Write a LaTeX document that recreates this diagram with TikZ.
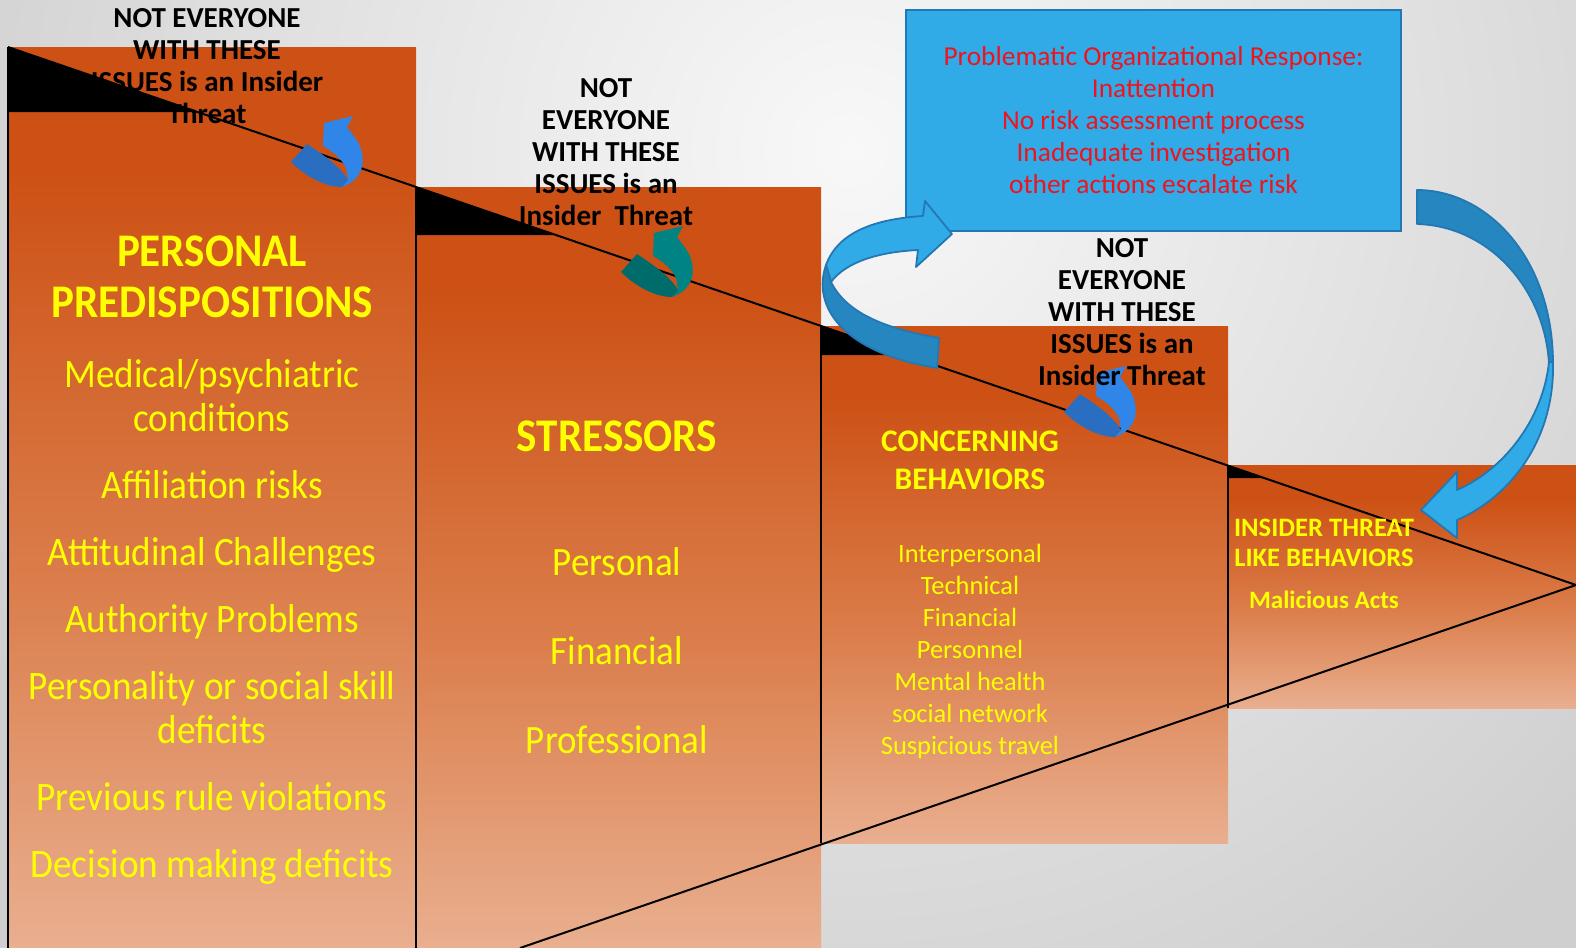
\documentclass[tikz,border=0pt]{standalone}
\usepackage{fontspec}
\setmainfont{Carlito}
\newfontfamily\tallfont{Carlito}[FakeStretch=0.92]
\usetikzlibrary{positioning}

\definecolor{paper}{HTML}{F8F8F8}
\definecolor{paperedge}{HTML}{CFCFCF}
\definecolor{rust}{HTML}{CD5115}
\definecolor{rustmid}{HTML}{DB7E4C}
\definecolor{rustpale}{HTML}{E9AF8F}
\definecolor{hilite}{HTML}{FFFF00}
\definecolor{alarm}{HTML}{EE141E}
\definecolor{sky}{HTML}{31ABE8}
\definecolor{skydark}{HTML}{2687C0}
\definecolor{skyedge}{HTML}{2378B3}
\definecolor{curlblue}{HTML}{2F86E8}
\definecolor{curlbluedk}{HTML}{2A6EC2}
\definecolor{curlteal}{HTML}{008383}
\definecolor{curltealdk}{HTML}{006B6B}

% dark at the top of each step, fading towards the bottom
\pgfdeclareverticalshading{stepfade}{100bp}{color(0bp)=(rustpale); color(25bp)=(rustpale); color(45bp)=(rustmid); color(68bp)=(rust); color(100bp)=(rust)}

\begin{document}
\begin{tikzpicture}[x=0.5pt, y=-0.5pt,
    stepnote/.style={font=\bfseries\fontsize{14.5}{16}\selectfont, align=center, inner sep=0pt},
    steptitle/.style={font=\tallfont\bfseries\fontsize{23.4}{25.5}\selectfont, text=hilite, align=center, inner sep=0pt},
    stepitem/.style={font=\tallfont\fontsize{20.2}{22}\selectfont, text=hilite, align=center, inner sep=0pt},
    smalltitle/.style={font=\bfseries\fontsize{15.7}{19}\selectfont, text=hilite, align=center, inner sep=0pt},
    smallitem/.style={font=\fontsize{13.2}{16}\selectfont, text=hilite, align=center, inner sep=0pt},
    stepblock/.style={shading=stepfade},
    wedge/.style={line width=1pt},
    band/.style={draw=skyedge, line width=0.9pt, line join=round},
    pics/curl/.style 2 args={code={
      \fill[#1] (72,87) .. controls (92,80) and (98,62) .. (88,42) -- (77,27) -- (83,16) -- (54,23) -- (53,46) .. controls (60,50) and (70,56) .. (76,68) -- (78,80) -- cycle;
      \fill[#2] (37,44) -- (21,62) .. controls (35,76) and (55,87) .. (72,87) -- (78,80) .. controls (70,66) and (52,54) .. cycle;
    }}
  ]
  \useasboundingbox (0,0) rectangle (1576,948);
  \begin{scope}
    \clip (0,0) rectangle (1576,948);
    \shade[inner color=paper, outer color=paperedge] (-150,-850) rectangle (1850,1150);
  \end{scope}

  % the four steps
  \shade[stepblock] (8,47) rectangle (416,948);
  \shade[stepblock] (416,187) rectangle (821,948);
  \shade[stepblock] (821,326) rectangle (1228,843);
  \shade[stepblock] (1228,465) rectangle (1576,708);

  \fill (8,47) -- (8,112) -- (197,112) -- cycle;
  \fill (416,187) -- (416,235) -- (556,235) -- cycle;
  \fill (821,326) -- (821,355) -- (906,355) -- cycle;
  \fill (1228,465.5) -- (1228,478) -- (1264,478) -- cycle;

  \coordinate (tip) at (1576,585);
  \draw[wedge] (8,47) -- (tip) -- (520,948);
  \draw[line width=0.8pt] (8,47) -- (8,948);
  \draw[line width=0.8pt] (416,187) -- (416,948);
  \draw[line width=0.8pt] (821,326) -- (821,843);
  \draw[line width=0.8pt] (1228,465) -- (1228,708);

  \pic at (270,100) {curl={curlblue}{curlbluedk}};
  \pic at (600,210) {curl={curlteal}{curltealdk}};
  \pic at (1043,350) {curl={curlblue}{curlbluedk}};

  % step 1
  \node[stepnote] (note1) at (207,66) {NOT EVERYONE\\WITH THESE\\ISSUES is an Insider\\Threat};
  \node[steptitle] (predisp) at (212,277) {PERSONAL\\PREDISPOSITIONS};
  \node[stepitem] (predisplist) at (212,622) {Medical/psychiatric\\conditions\\[11.5pt]Affiliation risks\\[11.5pt]Attitudinal Challenges\\[11.5pt]Authority Problems\\[11.5pt]Personality or social skill\\deficits\\[11.5pt]Previous rule violations\\[11.5pt]Decision making deficits};

  % step 2
  \node[stepnote] (note2) at (606,152.5) {NOT\\EVERYONE\\WITH THESE\\ISSUES is an\\Insider~ Threat};
  \node[steptitle] (stressors) at (617,436) {STRESSORS};
  \node[stepitem, font=\tallfont\fontsize{20.1}{44.5}\selectfont] (stresslist) at (617,651) {Personal\\Financial\\Professional};

  % step 3
  \node[stepnote] (note3) at (1122,312) {NOT\\EVERYONE\\WITH THESE\\ISSUES is an\\Insider Threat};
  \node[smalltitle] (concern) at (970,460) {CONCERNING\\BEHAVIORS};
  \node[smallitem] (concernlist) at (970,651.5) {Interpersonal\\Technical\\Financial\\Personnel\\Mental health\\social network\\Suspicious travel};

  % step 4
  \node[smalltitle, font=\bfseries\fontsize{13.3}{15}\selectfont] (insider) at (1324,543) {INSIDER THREAT\\LIKE BEHAVIORS};
  \node[smalltitle, font=\bfseries\fontsize{12.5}{15}\selectfont, below=11.5pt of insider] (malicious) {Malicious Acts};

  % organisational response box
  \node[fill=sky, draw=skyedge, line width=1.2pt, minimum width=247.5pt, minimum height=110.5pt,
        text=alarm, align=center, font=\fontsize{13.7}{16}\selectfont] (orgbox) at (1153.5,120.5)
    {Problematic Organizational Response:\\Inattention\\No risk assessment process\\Inadequate investigation\\other actions escalate risk};

  % arrow from the concerning step up to the box
  \filldraw[band, fill=sky] (826,265) .. controls (838,232) and (875,219) .. (923,216) -- (925,201) -- (952,234) -- (916,267) -- (918,250) .. controls (878,252) and (846,262) .. (831,282) -- cycle;
  \filldraw[band, fill=skydark] (826,265) .. controls (812,305) and (840,352) .. (937,368) -- (939,338) .. controls (882,328) and (846,312) .. (831,282) -- cycle;

  % arrow from the box down to the last step
  \filldraw[band, fill=skydark] (1417,190) .. controls (1487,190) and (1553,258) .. (1553,364) -- (1549,364) .. controls (1545,290) and (1490,226) .. (1417,224) -- cycle;
  \filldraw[band, fill=sky] (1553,362) .. controls (1555,440) and (1510,497) .. (1457,520) -- (1457,538) -- (1421,510) -- (1457,472) -- (1457,490) .. controls (1503,470) and (1543,420) .. (1549,362) -- cycle;
\end{tikzpicture}
\end{document}
